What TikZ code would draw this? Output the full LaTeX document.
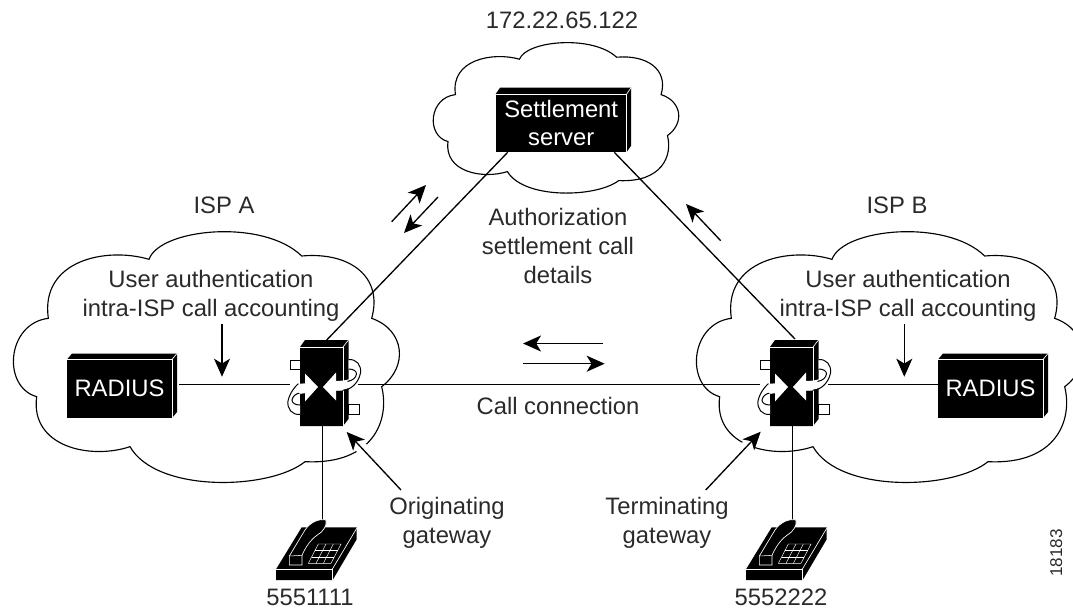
\documentclass[tikz,border=0pt]{standalone}
\usepackage{fontspec}
\setmainfont{Liberation Sans}
\usetikzlibrary{arrows.meta,calc}
\definecolor{inkc}{HTML}{2B2A2A}
\newcommand{\mainsize}{\fontsize{17.85}{21.75}\selectfont}
\tikzset{
  lbl/.style={inner sep=0pt,align=center,text=inkc,font=\mainsize},
  wire/.style={black,line width=1pt},
  cloudline/.style={black,line width=0.85pt,fill=white},
  arr/.style={black,line width=1pt,-{Stealth[length=13.5pt,width=12pt,inset=3.6pt]}},
  blackbox/.style={fill=black,inner sep=0pt,text=white,align=center,font=\mainsize},
  edgew/.style={white,line width=0.5pt},
}
% cloud in zoom coordinates
\newcommand{\cloudpath}{(447,118) .. controls (480,25) and (790,-5) .. (905,108)
  .. controls (1050,95) and (1150,170) .. (1115,295)
  .. controls (1215,330) and (1225,440) .. (1145,500)
  .. controls (1170,600) and (1120,735) .. (915,725)
  .. controls (810,810) and (470,820) .. (390,680)
  .. controls (270,720) and (90,680) .. (110,530)
  .. controls (5,500) and (20,310) .. (145,295)
  .. controls (120,120) and (320,80) .. cycle}
% #1 name, #2 left, #3 top(front), #4 width, #5 height, #6 dx, #7 dy, #8 text
\newcommand{\solidbox}[8]{%
  \fill[black] (#2,#3) -- ++(#6,-#7) -- ++(#4,0) -- ++(0,#5) -- ++(-#6,#7) -- cycle;
  \node[blackbox,minimum width=#4*0.75pt,minimum height=#5*0.75pt] (#1) at ({#2+#4/2},{#3+#5/2}) {#8};
  \draw[edgew] (#2,#3) -- ++(#4,0) -- ++(0,#5);
  \draw[edgew] ({#2+#4},#3) -- ++(#6,-#7);
}
% ribbon drawn on the right; #1 pulls the loop towards the box (left copy)
\newcommand{\ribbon}[1]{%
  \path[fill=white] (15.5,3.5) .. controls (30-#1,3.5) and (38-#1,-4) .. (40-#1,-14)
     .. controls (41-#1,-22) and (36-#1,-28) .. (28-#1,-27.5) -- (28-#1,-18)
     .. controls (33-#1,-18) and (36-#1,-16) .. (36-#1,-13)
     .. controls (35-#1,-9) and (26-#1,-6) .. (15.5,-6) -- cycle;
  \draw[black,line width=0.75pt] (22,3.3) .. controls (30-#1,3.3) and (38-#1,-4) .. (40-#1,-14)
     .. controls (41-#1,-22) and (36-#1,-28) .. (28-#1,-27.5);
  \draw[black,line width=0.75pt] (28-#1,-18) .. controls (33-#1,-18) and (36-#1,-16) .. (36-#1,-13)
     .. controls (35-#1,-9) and (33-#1,-7) .. (27-#1,-5.5);
  \fill[white] (2.5,0) -- (15.5,-14.5) -- (15.5,-6) -- (22,-6) -- (22,3.5) -- (15.5,3.5) -- (15.5,13.5) -- cycle;
}
% #1 name, #2 x shift
\newcommand{\gateway}[2]{%
  \begin{scope}[shift={(#2,0)}]
    \draw[black,line width=0.7pt,fill=white] (290,360) rectangle (300,369);
    \draw[black,line width=0.7pt,fill=white] (348,404.5) rectangle (359,414);
    \fill[black] (300,347) -- (305,340) -- (348.5,340) -- (348.5,419) -- (343,426) -- (300,426) -- cycle;
    \node[fill=black,inner sep=0pt,minimum width=32.25pt,minimum height=59.25pt] (#1) at (321.5,386.5) {};
    \draw[edgew] (300,347) -- (343,347) -- (343,426);
    \draw[edgew] (343,347) -- (348.5,340);
    \begin{scope}[shift={(320.5,387)}]
      \ribbon{0}
      \begin{scope}[rotate=180]\ribbon{7.5}\end{scope}
    \end{scope}
  \end{scope}}
% #1 x shift
\newcommand{\phone}[1]{%
  \begin{scope}[shift={(240+#1,480)},x=.25pt,y=-.25pt]
    \fill[black] (108,268) -- (185,142) -- (350,142) -- (350,178) -- (278,300) -- (108,300) -- cycle;
    \draw[white,line width=.5pt] (108,269) -- (276,269) -- (276,300);
    \draw[white,line width=.5pt] (276,269) -- (350,145);
    \draw[white,line width=.5pt,fill=black] (148,228) -- (195,150) .. controls (210,128) and (235,115) .. (258,120)
       .. controls (262,135) and (250,155) .. (232,165) .. controls (210,180) and (195,205) .. (186,226) -- (186,255) -- (148,255) -- cycle;
    \draw[white,line width=.4pt] (148,228) -- (186,226);
    \draw[white,line width=.35pt] (205,250) -- (235,192) -- (303,192) -- (273,250) -- cycle;
    \draw[white,line width=.35pt] (215,231) -- (283,231) (225,211) -- (293,211);
    \draw[white,line width=.35pt] (228,250) -- (258,192) (250,250) -- (280,192);
  \end{scope}}
\begin{document}
\begin{tikzpicture}[x=0.75pt,y=-0.75pt]
\useasboundingbox (0,0) rectangle (1073,611);
% clouds
\begin{scope}[shift={(0,220)},x=.25pt,y=-.25pt]
  \draw[cloudline] \cloudpath;
\end{scope}
\begin{scope}[shift={(683,220)},x=.25pt,y=-.25pt]
  \draw[cloudline] \cloudpath;
\end{scope}
\begin{scope}[shift={(424.7,35.6)},x=.159pt,y=-.15pt]
  \draw[cloudline] \cloudpath;
\end{scope}
% connector ends
\coordinate (radAend) at (179,384.5);
\coordinate (gwAleft) at (290,384.5);
\coordinate (gwAright) at (358,384.5);
\coordinate (gwBleft) at (760,384.5);
\coordinate (gwBright) at (828,384.5);
\coordinate (radBend) at (938,384.5);
\coordinate (gwAtop) at (326.7,340);
\coordinate (gwBtop) at (795,339);
\coordinate (srvL) at (507.7,152.3);
\coordinate (srvR) at (614.3,152.3);
\coordinate (gwAbot) at (322.5,426);
\coordinate (gwBbot) at (792.5,426);
\coordinate (telA) at (322.5,522);
\coordinate (telB) at (792.5,522);
% connectors
\draw[wire] (radAend) -- (gwAleft);
\draw[wire] (gwAright) -- (gwBleft);
\draw[wire] (gwBright) -- (radBend);
\draw[wire] (gwAtop) -- (srvL);
\draw[wire] (gwBtop) -- (srvR);
\draw[wire] (gwAbot) -- (telA);
\draw[wire] (gwBbot) -- (telB);
% devices
\solidbox{radA}{67}{359.5}{105}{58.5}{5}{6}{RADIUS}
\solidbox{radB}{938}{359.5}{105}{58.5}{5}{6}{RADIUS}
\solidbox{srv}{495.7}{94}{131}{58}{4.5}{6.5}{Settlement\\[-0.5pt]server}
\gateway{gwA}{0}
\gateway{gwB}{470}
\phone{0}
\phone{470}
% arrow ends
\coordinate (a1s) at (391.7,221.7); \coordinate (a1e) at (426,185);
\coordinate (a2s) at (438,197);     \coordinate (a2e) at (404,233);
\coordinate (a3s) at (720.7,240.7); \coordinate (a3e) at (686,204);
\coordinate (a4s) at (603,343.5);   \coordinate (a4e) at (523,343.5);
\coordinate (a5s) at (522.7,363.7); \coordinate (a5e) at (604.7,363.7);
\coordinate (a6s) at (222,324);     \coordinate (a6e) at (222,376.7);
\coordinate (a7s) at (904.3,324);   \coordinate (a7e) at (904.3,376.7);
\coordinate (a8s) at (401,490);     \coordinate (a8e) at (346.7,432);
\coordinate (a9s) at (705.7,490);   \coordinate (a9e) at (760.7,431.7);
\foreach \s/\e in {a1s/a1e,a2s/a2e,a3s/a3e,a4s/a4e,a5s/a5e,a6s/a6e,a7s/a7e}
  \draw[arr] (\s) -- (\e);
\draw[white,line width=9pt] ($(a8s)!0.45!(a8e)$) -- (a8e);
\draw[white,line width=9pt] ($(a9s)!0.45!(a9e)$) -- (a9e);
\draw[arr] (a8s) -- (a8e);
\draw[arr] (a9s) -- (a9e);
% labels
\node[lbl,anchor=base] (ip) at (562,28) {172.22.65.122};
\node[lbl,anchor=base] (ispa) at (224,213) {ISP A};
\node[lbl,anchor=base] (ispb) at (897,213) {ISP B};
\node[lbl] (ua) at (211,295.5) {User authentication\\intra-ISP call accounting};
\node[lbl] (ub) at (908,295.5) {User authentication\\intra-ISP call accounting};
\node[lbl] (auth) at (558,246) {Authorization\\settlement call\\details};
\node[lbl,anchor=base] (cc) at (558,414) {Call connection};
\node[lbl] (og) at (447,523) {Originating\\gateway};
\node[lbl] (tg) at (667,523) {Terminating\\gateway};
\node[lbl,anchor=base] (na) at (310,605) {5551111};
\node[lbl,anchor=base] (nb) at (781,605) {5552222};
\node[lbl,anchor=base,rotate=90,font=\fontsize{12.8}{14}\selectfont] (id) at (1062,553) {18183};
\end{tikzpicture}
\end{document}
